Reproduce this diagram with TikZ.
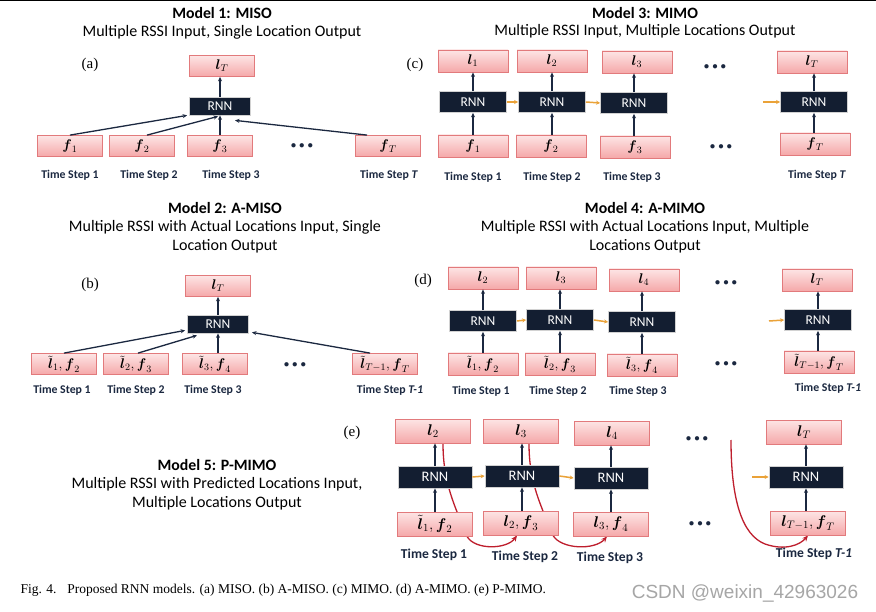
\RequirePackage{fix-cm}
\documentclass[tikz,border=0pt]{standalone}
\usepackage{amsmath}
\usepackage{fontspec}
\setmainfont{Carlito}
\newfontfamily\timesfont{Liberation Serif}
\newfontfamily\markfont{Liberation Sans}
\usetikzlibrary{arrows.meta}

\definecolor{boxline}{HTML}{E27A7C}
\definecolor{boxtop}{HTML}{FDE5E5}
\definecolor{boxbot}{HTML}{F5A8A9}
\definecolor{rnnfill}{HTML}{131E31}
\definecolor{navy}{HTML}{1B2840}
\definecolor{recurorange}{HTML}{EAA238}
\definecolor{feedred}{HTML}{BE1E2D}

\pgfdeclarelayer{paper}
\pgfdeclarelayer{feed}
\pgfsetlayers{paper,feed,main}

\newcommand{\moredots}{$\bullet$\hspace{2.8pt}$\bullet$\hspace{2.8pt}$\bullet$}

\begin{document}
\begin{tikzpicture}[x=1pt, y=-1pt,
  title/.style={font=\fontsize{15.8}{17}\selectfont\bfseries},
  subtitle/.style={font=\fontsize{16}{19}\selectfont, align=center},
  panel/.style={font=\timesfont\fontsize{15}{15}\selectfont},
  outbox/.style={draw=boxline, top color=boxtop, bottom color=boxbot, line width=0.8pt, inner sep=0pt, font=\fontsize{14}{14}\selectfont},
  rnnbox/.style={draw=gray!35, line width=0.8pt, fill=rnnfill, text=white, inner sep=0pt, font=\fontsize{13.5}{13.5}\selectfont},
  tslabel/.style={font=\fontsize{11.8}{12}\selectfont\bfseries, text=navy},
  tslabele/.style={font=\fontsize{13.6}{14}\selectfont\bfseries, text=navy},
  dotsnode/.style={font=\fontsize{11}{11}\selectfont, text=navy},
  sizeab/.style={outbox, minimum width=65, minimum height=21},
  sizecd/.style={outbox, minimum width=70, minimum height=22},
  sizee/.style={outbox, minimum width=75, minimum height=24, font=\fontsize{15.5}{15.5}\selectfont},
  rnnab/.style={rnnbox, minimum width=61, minimum height=18},
  rnncd/.style={rnnbox, minimum width=67, minimum height=21},
  rnne/.style={rnnbox, minimum width=74, minimum height=22, font=\fontsize{14.5}{14.5}\selectfont},
  up/.style={-{Stealth[length=4.5pt,width=4pt]}, draw=navy, line width=1.3pt},
  recur/.style={-{Stealth[length=4pt,width=4pt]}, draw=recurorange, line width=1.5pt},
  feed/.style={-{Stealth[length=6pt,width=5pt]}, draw=feedred, line width=1.3pt}]

\useasboundingbox (0,0) rectangle (876,612);
\begin{pgfonlayer}{paper}
\fill[white] (0,0) rectangle (876,612);
\end{pgfonlayer}
\draw[line width=1.5pt] (0,0.75) -- (876,0.75);

% Model 1 (a)
\node[title] (ttla) at (222,13) {Model 1: MISO};
\node[subtitle] (suba) at (222,32) {Multiple RSSI Input, Single Location Output};
\node[panel] (pa) at (90,65) {(a)};
\node[sizeab] (lTa) at (222,66) {$\boldsymbol{l}_T$};
\node[rnnab] (rnna) at (220,106) {RNN};
\node[sizeab] (fa1) at (70,146) {$\boldsymbol{f}_1$};
\node[sizeab] (fa2) at (142,146) {$\boldsymbol{f}_2$};
\node[sizeab] (fa3) at (220,146) {$\boldsymbol{f}_3$};
\node[sizeab] (faT) at (388,146) {$\boldsymbol{f}_T$};
\node[dotsnode] (dota) at (302,146) {\moredots};
\node[tslabel] (tsa1) at (70,175) {Time Step 1};
\node[tslabel] (tsa2) at (149,175) {Time Step 2};
\node[tslabel] (tsa3) at (231,175) {Time Step 3};
\node[tslabel] (tsaT) at (389,175) {Time Step \textit{T}};
\draw[up] (fa1.north) -- ([xshift=-2]rnna.south west);
\draw[up] ([xshift=5]fa2.north) -- ([xshift=-2,yshift=-1]rnna.south);
\draw[up] (rnna.south |- fa3.north) -- (rnna.south);
\draw[up] ([xshift=-21]faT.north) -- ([xshift=15,yshift=-5]rnna.south);
\draw[up] (rnna.north) -- (rnna.north |- lTa.south);

% Model 2 (b)
\node[title] (ttlb) at (225,208) {Model 2: A-MISO};
\node[subtitle] (subb) at (225,236.5) {Multiple RSSI with Actual Locations Input, Single\\Location Output};
\node[panel] (pb) at (90,285) {(b)};
\node[sizeab] (lTb) at (218,286) {$\boldsymbol{l}_T$};
\node[rnnab] (rnnb) at (218,324) {RNN};
\node[sizeab] (xb1) at (64,364) {$\tilde{\boldsymbol{l}}_1, \boldsymbol{f}_2$};
\node[sizeab] (xb2) at (136,364) {$\tilde{\boldsymbol{l}}_2, \boldsymbol{f}_3$};
\node[sizeab] (xb3) at (215,364) {$\tilde{\boldsymbol{l}}_3, \boldsymbol{f}_4$};
\node[sizeab] (xbT) at (385,364) {$\tilde{\boldsymbol{l}}_{T-1}, \boldsymbol{f}_T$};
\node[dotsnode] (dotb) at (295,365) {\moredots};
\node[tslabel] (tsb1) at (62,390) {Time Step 1};
\node[tslabel] (tsb2) at (136,390) {Time Step 2};
\node[tslabel] (tsb3) at (213,390) {Time Step 3};
\node[tslabel] (tsbT) at (390,390) {Time Step \textit{T-1}};
\draw[up] (xb1.north) -- ([xshift=-2,yshift=3]rnnb.south west);
\draw[up] ([xshift=2]xb2.north) -- ([xshift=-21,yshift=-2]rnnb.south);
\draw[up] (rnnb.south |- xb3.north) -- (rnnb.south);
\draw[up] ([xshift=-15]xbT.north) -- ([xshift=3,yshift=1]rnnb.south east);
\draw[up] (rnnb.north) -- (rnnb.north |- lTb.south);

% Model 3 (c)
\node[title] (ttlc) at (645,13) {Model 3: MIMO};
\node[subtitle] (subc) at (645,31) {Multiple RSSI Input, Multiple Locations Output};
\node[panel] (pc) at (415,65) {(c)};
\node[sizecd] (lc1) at (473,61) {$\boldsymbol{l}_1$};
\node[sizecd] (lc2) at (552,61) {$\boldsymbol{l}_2$};
\node[sizecd] (lc3) at (637,62) {$\boldsymbol{l}_3$};
\node[sizecd] (lcT) at (812,62) {$\boldsymbol{l}_T$};
\node[rnncd] (rc1) at (473,102) {RNN};
\node[rnncd] (rc2) at (552,102) {RNN};
\node[rnncd] (rc3) at (634,103) {RNN};
\node[rnncd] (rcT) at (814,102) {RNN};
\node[sizecd] (fc1) at (473,146) {$\boldsymbol{f}_1$};
\node[sizecd] (fc2) at (551,146) {$\boldsymbol{f}_2$};
\node[sizecd] (fc3) at (635,147) {$\boldsymbol{f}_3$};
\node[sizecd] (fcT) at (815,144) {$\boldsymbol{f}_T$};
\node[dotsnode] (dotc1) at (715,67) {\moredots};
\node[dotsnode] (dotc2) at (721,147) {\moredots};
\node[tslabel] (tsc1) at (473,177) {Time Step 1};
\node[tslabel] (tsc2) at (552,177) {Time Step 2};
\node[tslabel] (tsc3) at (632,177) {Time Step 3};
\node[tslabel] (tscT) at (817,175) {Time Step \textit{T}};
\coordinate (inc) at (763,102);
\draw[up] (fc1.north) -- (rc1.south);
\draw[up] (rc1.north) -- (lc1.south);
\draw[up] (rc2.south |- fc2.north) -- (rc2.south);
\draw[up] (rc2.north) -- (rc2.north |- lc2.south);
\draw[up] (rc3.south |- fc3.north) -- (rc3.south);
\draw[up] (rc3.north) -- (rc3.north |- lc3.south);
\draw[up] (rcT.south |- fcT.north) -- (rcT.south);
\draw[up] (rcT.north) -- (rcT.north |- lcT.south);
\draw[recur] (rc1.east) -- (rc2.west);
\draw[recur] (rc2.east) -- (rc3.west);
\draw[recur] (inc) -- (rcT.west);

% Model 4 (d)
\node[title] (ttld) at (645,208) {Model 4: A-MIMO};
\node[subtitle] (subd) at (645,236.5) {Multiple RSSI with Actual Locations Input, Multiple\\Locations Output};
\node[panel] (pd) at (423,281) {(d)};
\node[sizecd] (ld1) at (483,278) {$\boldsymbol{l}_2$};
\node[sizecd] (ld2) at (561,278) {$\boldsymbol{l}_3$};
\node[sizecd] (ld3) at (644,280) {$\boldsymbol{l}_4$};
\node[sizecd] (ldT) at (817,280) {$\boldsymbol{l}_T$};
\node[rnncd] (rd1) at (483,321) {RNN};
\node[rnncd] (rd2) at (560,320) {RNN};
\node[rnncd] (rd3) at (642,322) {RNN};
\node[rnncd] (rdT) at (818,320) {RNN};
\node[sizecd] (xd1) at (483,364) {$\tilde{\boldsymbol{l}}_1, \boldsymbol{f}_2$};
\node[sizecd] (xd2) at (560,364) {$\tilde{\boldsymbol{l}}_2, \boldsymbol{f}_3$};
\node[sizecd] (xd3) at (642,365) {$\tilde{\boldsymbol{l}}_3, \boldsymbol{f}_4$};
\node[sizecd] (xdT) at (819,362) {$\tilde{\boldsymbol{l}}_{T-1}, \boldsymbol{f}_T$};
\node[dotsnode] (dotd1) at (726,283) {\moredots};
\node[dotsnode] (dotd2) at (726,364) {\moredots};
\node[tslabel] (tsd1) at (481,391) {Time Step 1};
\node[tslabel] (tsd2) at (558,391) {Time Step 2};
\node[tslabel] (tsd3) at (638,391) {Time Step 3};
\node[tslabel] (tsdT) at (828,388) {Time Step \textit{T-1}};
\coordinate (ind) at (769,321);
\draw[up] (rd1.south |- xd1.north) -- (rd1.south);
\draw[up] (rd1.north) -- (rd1.north |- ld1.south);
\draw[up] (rd2.south |- xd2.north) -- (rd2.south);
\draw[up] (rd2.north) -- (rd2.north |- ld2.south);
\draw[up] (rd3.south |- xd3.north) -- (rd3.south);
\draw[up] (rd3.north) -- (rd3.north |- ld3.south);
\draw[up] (rdT.south |- xdT.north) -- (rdT.south);
\draw[up] (rdT.north) -- (rdT.north |- ldT.south);
\draw[recur] (rd1.east) -- (rd2.west);
\draw[recur] (rd2.east) -- (rd3.west);
\draw[recur] (ind) -- (rdT.west);

% Model 5 (e)
\node[title] (ttle) at (217,465) {Model 5: P-MIMO};
\node[subtitle] (sube) at (217,493.5) {Multiple RSSI with Predicted Locations Input,\\Multiple Locations Output};
\node[panel] (pe) at (352,433) {(e)};
\node[sizee] (le1) at (433,431) {$\boldsymbol{l}_2$};
\node[sizee] (le2) at (521,431) {$\boldsymbol{l}_3$};
\node[sizee] (le3) at (612,433) {$\boldsymbol{l}_4$};
\node[sizee] (leT) at (804,432) {$\boldsymbol{l}_T$};
\node[rnne] (re1) at (435,477) {RNN};
\node[rnne] (re2) at (522,476) {RNN};
\node[rnne] (re3) at (611,478) {RNN};
\node[rnne] (reT) at (806,477) {RNN};
\node[sizee] (xe1) at (435,524) {$\tilde{\boldsymbol{l}}_1, \boldsymbol{f}_2$};
\node[sizee] (xe2) at (521,523) {$\boldsymbol{l}_2, \boldsymbol{f}_3$};
\node[sizee] (xe3) at (611,524) {$\boldsymbol{l}_3, \boldsymbol{f}_4$};
\node[sizee] (xeT) at (808,523) {$\boldsymbol{l}_{T-1}, \boldsymbol{f}_T$};
\node[dotsnode] (dote1) at (697,439) {\moredots};
\node[dotsnode] (dote2) at (700,524) {\moredots};
\node[tslabele] (tse1) at (434,555) {Time Step 1};
\node[tslabele] (tse2) at (525,557) {Time Step 2};
\node[tslabele] (tse3) at (610,558) {Time Step 3};
\node[tslabele] (tseT) at (814,554) {Time Step \textit{T-1}};
\coordinate (ine) at (752,477);
\coordinate (feedT) at (731,440);
\draw[up] (re1.south |- xe1.north) -- (re1.south);
\draw[up] (re1.north) -- (re1.north |- le1.south);
\draw[up] (re2.south |- xe2.north) -- (re2.south);
\draw[up] (re2.north) -- (re2.north |- le2.south);
\draw[up] (re3.south |- xe3.north) -- (re3.south);
\draw[up] (re3.north) -- (re3.north |- le3.south);
\draw[up] (reT.south |- xeT.north) -- (reT.south);
\draw[up] (reT.north) -- (reT.north |- leT.south);
\draw[recur] (re1.east) -- (re2.west);
\draw[recur] (re2.east) -- (re3.west);
\draw[recur] (ine) -- (reT.west);
% predicted locations fed back (behind the boxes)
\begin{pgfonlayer}{feed}
\draw[feed] ([xshift=10]le1.south) .. controls +(0,40) and +(-12,-30) .. ([xshift=32]xe1.south)
  .. controls +(8,14) and +(-10,14) .. ([xshift=-4]xe2.south);
\draw[feed] ([xshift=8]le2.south) .. controls +(0,40) and +(-12,-30) .. ([xshift=32]xe2.south)
  .. controls +(8,14) and +(-12,14) .. ([xshift=-4]xe3.south);
\draw[feed] (feedT) .. controls (731,500) and (742,535) .. (765,544)
  .. controls (785,551) and (800,545) .. (xeT.south);
\end{pgfonlayer}

% caption and mark
\node[anchor=west, font=\timesfont\fontsize{13.5}{13.5}\selectfont] (cap) at (17,590) {Fig. 4.\hspace{0.8em}Proposed RNN models. (a) MISO. (b) A-MISO. (c) MIMO. (d) A-MIMO. (e) P-MIMO.};
\node[font=\markfont\fontsize{19}{19}\selectfont, text=gray!70] (mark) at (745,594) {CSDN @weixin\_42963026};
\end{tikzpicture}
\end{document}
